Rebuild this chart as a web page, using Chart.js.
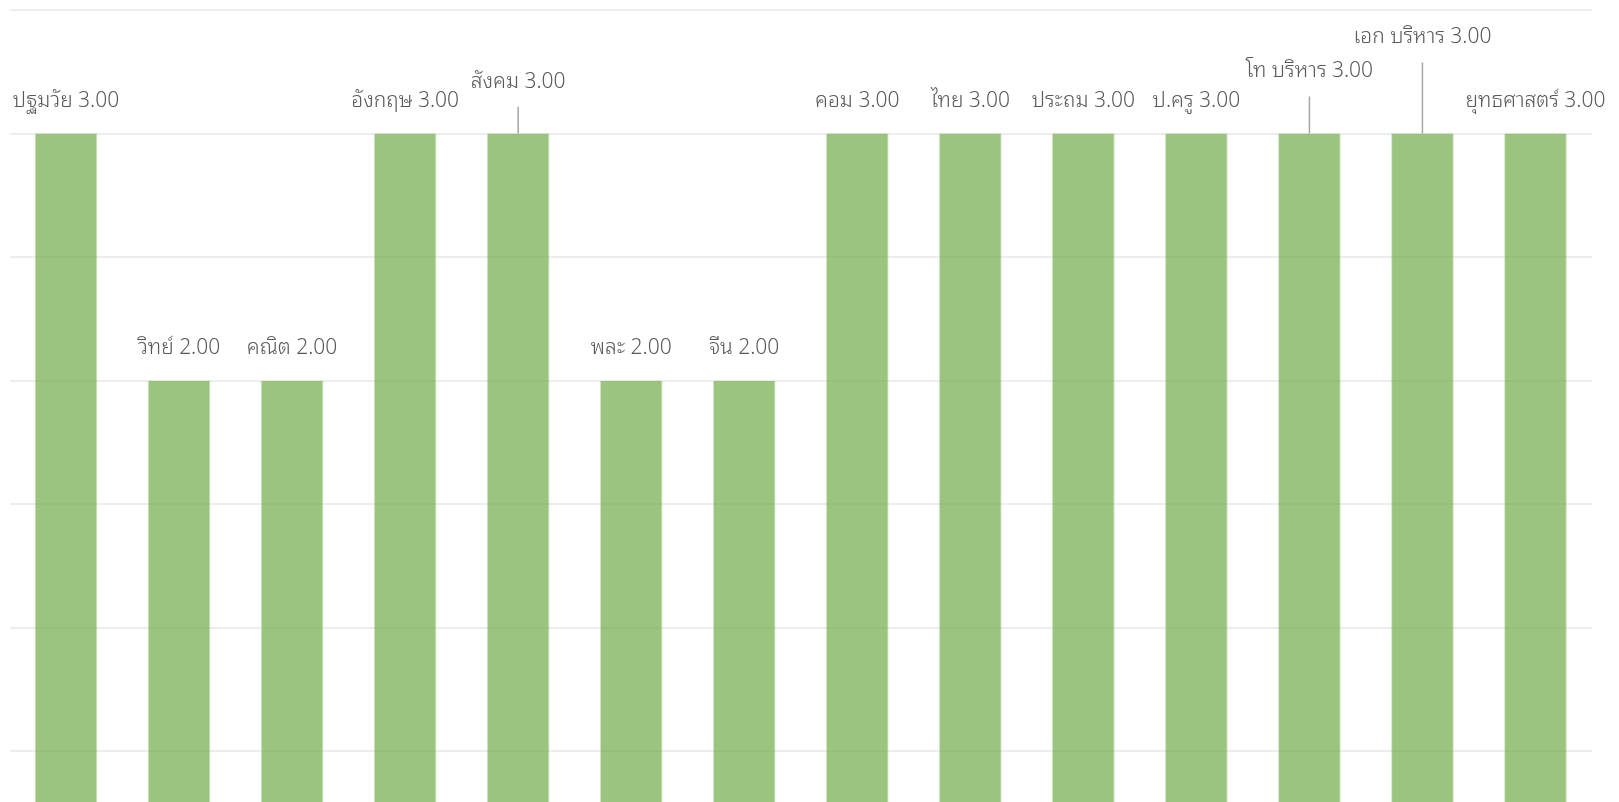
<!DOCTYPE html>
<html>
<head>
<meta charset="utf-8">
<script src="https://cdn.jsdelivr.net/npm/chart.js@4.4.0/dist/chart.umd.min.js"></script>
<style>
html,body{margin:0;padding:0;background:#fff;overflow:hidden;}
#wrap{width:1619px;height:876px;}
</style>
</head>
<body>
<div id="wrap"><canvas id="c" width="1619" height="876"></canvas></div>
<script>
const categories = ['ปฐมวัย','วิทย์','คณิต','อังกฤษ','สังคม','พละ','จีน','คอม','ไทย','ประถม','ป.ครู','โท บริหาร','เอก บริหาร','ยุทธศาสตร์'];
const values = [3,2,2,3,3,2,2,3,3,3,3,3,3,3];
const yMin = 0, yMax = 3.5, yStep = 0.5;

const LABEL_FONT = "300 21px 'Noto Sans Thai Looped', 'Noto Sans Thai', sans-serif";

const labelPlugin = {
  id: 'barLabels',
  afterDatasetsDraw(chart) {
    const ctx = chart.ctx;
    const meta = chart.getDatasetMeta(0);
    ctx.save();
    ctx.font = LABEL_FONT;
    ctx.textAlign = 'center';
    ctx.textBaseline = 'alphabetic';
    const placed = [];
    meta.data.forEach((bar, i) => {
      const text = categories[i] + ' ' + values[i].toFixed(2);
      const w = ctx.measureText(text).width;
      const left = bar.x - w / 2, right = bar.x + w / 2;
      const base = bar.y - 26.7;
      let y = base;
      placed.forEach(p => {
        const gap = Math.max(p.left - right, left - p.right);
        if (gap < 14.5 && Math.abs(p.y - y) < 30) {
          const raise = Math.min(34, 38.9 - 1.68 * gap);
          y = Math.min(y, p.y - raise);
        }
      });
      placed.push({left, right, y});
      if (y < base - 1) {
        ctx.strokeStyle = '#a6a6a6';
        ctx.lineWidth = 1.5;
        ctx.beginPath();
        ctx.moveTo(bar.x, y + 19);
        ctx.lineTo(bar.x, bar.y);
        ctx.stroke();
      }
      ctx.fillStyle = '#595959';
      ctx.fillText(text, bar.x, y);
    });
    ctx.restore();
  }
};

new Chart(document.getElementById('c'), {
  type: 'bar',
  data: {
    labels: categories,
    datasets: [{
      data: values,
      backgroundColor: 'rgba(112,173,71,0.7)',
      borderColor: 'rgba(112,173,71,0.3)',
      borderWidth: {left: 1, right: 1, top: 0, bottom: 0},
      borderSkipped: false,
      barPercentage: 0.555,
      categoryPercentage: 1
    }]
  },
  options: {
    responsive: false,
    animation: false,
    devicePixelRatio: 1,
    layout: {padding: {left: 9.5, right: 27, top: 10, bottom: 1}},
    plugins: {legend: {display: false}, tooltip: {enabled: false}},
    scales: {
      x: {display: false},
      y: {
        min: yMin, max: yMax,
        ticks: {display: false, stepSize: yStep},
        border: {display: false},
        grid: {color: '#ededed', lineWidth: 2, drawTicks: false}
      }
    }
  },
  plugins: [labelPlugin]
});
</script>
</body>
</html>
